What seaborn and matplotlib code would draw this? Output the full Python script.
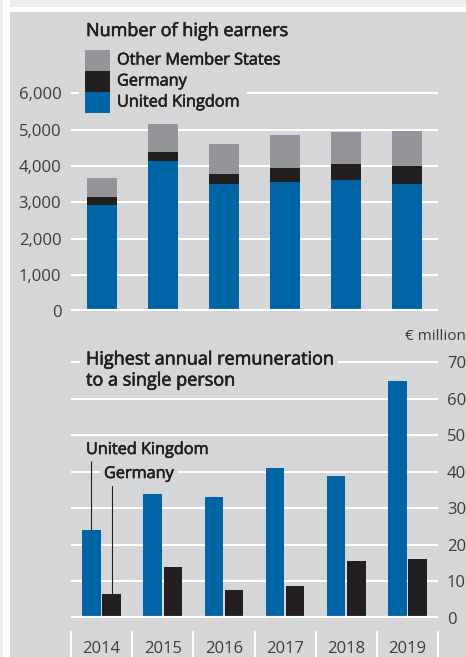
import matplotlib
matplotlib.use("Agg")
import matplotlib.pyplot as plt
import matplotlib.patheffects as pe
import seaborn as sns
import pandas as pd
import numpy as np
from matplotlib.patches import Rectangle
from matplotlib.lines import Line2D
from matplotlib.transforms import blended_transform_factory

# ---------------- data ----------------
years = ["2014", "2015", "2016", "2017", "2018", "2019"]
uk_count = [2920, 4130, 3520, 3570, 3610, 3510]
de_count = [240, 270, 260, 370, 450, 490]
other_count = [520, 750, 820, 920, 880, 960]

uk_top_pay = [24.0, 33.8, 33.2, 40.9, 38.8, 64.8]
de_top_pay = [6.5, 13.8, 7.6, 8.7, 15.4, 16.1]

count_ticks = [0, 1000, 2000, 3000, 4000, 5000, 6000]
count_tick_labels = ["0", "1,000", "2,000", "3,000", "4,000", "5,000", "6,000"]
pay_ticks = [0, 10, 20, 30, 40, 50, 60, 70]

series_names = ["Other Member States", "Germany", "United Kingdom"]

# ---------------- style ----------------
BLUE = "#0064a5"
BLACK = "#231f20"
GRAY = "#939598"
PANEL = "#d5d6d8"
LIGHT = "#ebecee"
TXT = "#231f20"
TICK = "#3c3c3c"
MEDIUM = [pe.withStroke(linewidth=0.45, foreground=TXT)]

sns.set_theme(style="white")
plt.rcParams["font.family"] = ["Open Sans", "DejaVu Sans"]

W, H = 466, 657
fig = plt.figure(figsize=(W / 100, H / 100), dpi=100, facecolor="white")


def fx(px):
    return px / W


def fy(py):
    return 1 - py / H


# background panels
fig.add_artist(Rectangle((0, 0), fx(3), 1, transform=fig.transFigure,
                         facecolor=LIGHT, edgecolor="none", zorder=-10))
fig.add_artist(Rectangle((fx(10), fy(7)), 1, 1, transform=fig.transFigure,
                         facecolor=LIGHT, edgecolor="none", zorder=-10))
fig.add_artist(Rectangle((fx(10), 0), 1, fy(12), transform=fig.transFigure,
                         facecolor=PANEL, edgecolor="none", zorder=-9))

# ---------------- top chart ----------------
x0, x1 = 71, 438
zero_top = 311.5
k_top = 36.35 / 1000.0
ymax_top = 6500
top_px = zero_top - ymax_top * k_top
ax1 = fig.add_axes([fx(x0), fy(zero_top), fx(x1 - x0), (zero_top - top_px) / H])
ax1.patch.set_alpha(0)

df1 = pd.DataFrame({"year": years,
                    "uk": uk_count,
                    "de": de_count,
                    "other": other_count})
df1["uk_de"] = df1["uk"] + df1["de"]
df1["total"] = df1["uk_de"] + df1["other"]

sns.barplot(data=df1, x="year", y="total", color=GRAY, width=0.49,
            saturation=1, edgecolor="none", ax=ax1, zorder=2)
sns.barplot(data=df1, x="year", y="uk_de", color=BLACK, width=0.49,
            saturation=1, edgecolor="none", ax=ax1, zorder=2)
sns.barplot(data=df1, x="year", y="uk", color=BLUE, width=0.49,
            saturation=1, edgecolor="none", ax=ax1, zorder=2)

ax1.set_xlim(-0.5, 5.5)
ax1.set_ylim(0, ymax_top)
ax1.set_yticks(count_ticks)
ax1.set_yticklabels(count_tick_labels)
ax1.set_xticks([])
ax1.set_xlabel("")
ax1.set_ylabel("")
for s in ax1.spines.values():
    s.set_visible(False)
ax1.grid(axis="y", color="white", lw=1.5, zorder=1)
ax1.set_axisbelow(True)
ax1.axhline(0, color="white", lw=3.0, zorder=3)
ax1.tick_params(axis="y", length=0, pad=7, labelsize=12, labelcolor=TICK)

fig.text(fx(86), fy(31), "Number of high earners", ha="left", va="center",
         fontsize=13, color=TXT, path_effects=MEDIUM)

# legend (manual)
fig.add_artist(Rectangle((fx(79), fy(116)), fx(247 - 79), (116 - 46) / H,
                         transform=fig.transFigure, facecolor=PANEL,
                         edgecolor="none", zorder=1))
leg_colors = [GRAY, BLACK, BLUE]
for i, (name, col) in enumerate(zip(series_names, leg_colors)):
    ytop = 50 + 21 * i
    fig.add_artist(Rectangle((fx(85), fy(ytop + 21)), fx(25), 21 / H,
                             transform=fig.transFigure, facecolor=col,
                             edgecolor="none", zorder=2))
    fig.text(fx(117), fy(ytop + 10.5), name, ha="left", va="center",
             fontsize=11.7, color=TXT, path_effects=MEDIUM, zorder=3)

# ---------------- bottom chart ----------------
zero_bot = 617.7
k_bot = 3.65
ymax_bot = 72
bot_top_px = zero_bot - ymax_bot * k_bot
ax2 = fig.add_axes([fx(x0), fy(zero_bot), fx(x1 - x0), (zero_bot - bot_top_px) / H])
ax2.patch.set_alpha(0)

df2 = pd.DataFrame({"year": years * 2,
                    "country": ["United Kingdom"] * 6 + ["Germany"] * 6,
                    "value": uk_top_pay + de_top_pay})
sns.barplot(data=df2, x="year", y="value", hue="country",
            hue_order=["United Kingdom", "Germany"],
            palette=[BLUE, BLACK], width=0.66, gap=0.08, saturation=1,
            edgecolor="none", legend=False, ax=ax2, zorder=2)

ax2.set_xlim(-0.5, 5.5)
ax2.set_ylim(0, ymax_bot)
ax2.set_yticks(pay_ticks)
ax2.yaxis.tick_right()
ax2.set_xlabel("")
ax2.set_ylabel("")
for s in ax2.spines.values():
    s.set_visible(False)
ax2.grid(axis="y", color="white", lw=1.5, zorder=1)
ax2.set_axisbelow(True)
ax2.axhline(0, color="white", lw=3.0, zorder=3)
ax2.tick_params(axis="y", length=0, pad=6.5, labelsize=12, labelcolor=TICK)
ax2.tick_params(axis="x", length=0, pad=17, labelsize=12, labelcolor=TICK)

# category separators below the axis
trans = blended_transform_factory(ax2.transData, fig.transFigure)
for b in np.arange(-0.5, 6.0, 1.0):
    ax2.add_line(Line2D([b, b], [fy(632), 0], transform=trans, color="white",
                        lw=1.5, clip_on=False))

fig.text(fx(405), fy(336), "€ million", ha="left", va="center",
         fontsize=11, color=TICK)

fig.text(fx(86), fy(370), "Highest annual remuneration\nto a single person",
         ha="left", va="center", fontsize=13, color=TXT, linespacing=1.22,
         path_effects=MEDIUM,
         bbox=dict(facecolor=PANEL, edgecolor="none", pad=4), zorder=5)

# annotation lines
bar_off = 0.165
ax2.plot([0 - bar_off, 0 - bar_off], [uk_top_pay[0], 42.9], color=BLACK,
         lw=0.8, zorder=4, solid_capstyle="butt")
ax2.plot([0 + bar_off, 0 + bar_off], [de_top_pay[0], 36.6], color=BLACK,
         lw=0.8, zorder=4, solid_capstyle="butt")
fig.text(fx(86), fy(450), "United Kingdom", ha="left", va="center",
         fontsize=11.7, color=TXT, path_effects=MEDIUM, zorder=5)
fig.text(fx(104), fy(474), "Germany", ha="left", va="center",
         fontsize=11.7, color=TXT, path_effects=MEDIUM, zorder=5,
         bbox=dict(facecolor=PANEL, edgecolor="none", pad=3))

fig.savefig("out.png", dpi=100, facecolor=fig.get_facecolor())
